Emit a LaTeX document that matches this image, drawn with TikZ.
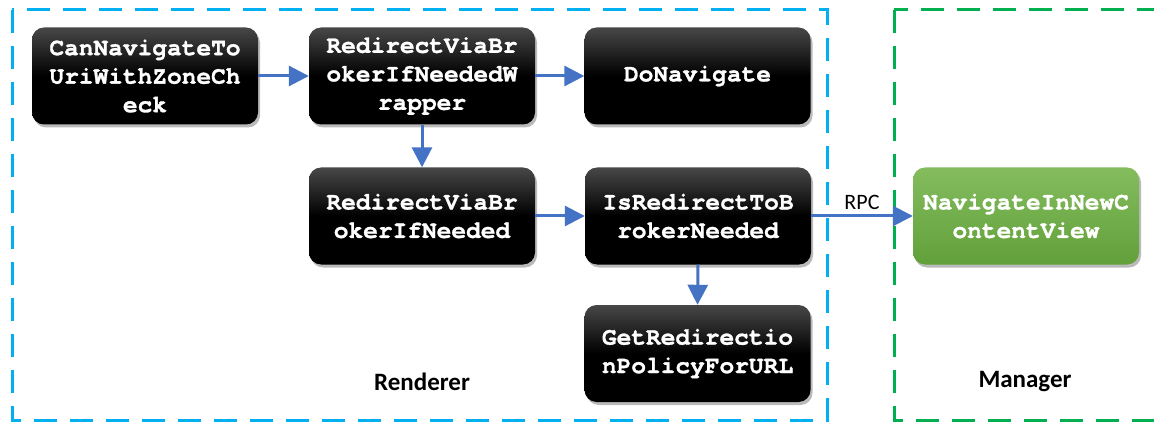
\documentclass[tikz,border=0pt]{standalone}
\usepackage{fontspec}
\setmainfont{Carlito}
\newfontfamily\codefont{texgyrecursor}[Extension=.otf, UprightFont=*-regular, BoldFont=*-bold, BoldFeatures={FakeBold=1.2}]
\usetikzlibrary{arrows.meta,shadows}
\definecolor{arrowblue}{HTML}{4472C4}
\definecolor{rendblue}{HTML}{00B0F0}
\definecolor{mangreen}{HTML}{00B050}
\definecolor{gtop}{HTML}{84BC5E}
\definecolor{gbot}{HTML}{62A03A}
\tikzset{
  fn/.style={rectangle, rounded corners=12pt, minimum width=226pt, minimum height=97pt,
    inner sep=0pt, align=center, text=white,
    font=\codefont\bfseries\fontsize{24.5}{28.5}\selectfont,
    drop shadow={shadow xshift=2pt, shadow yshift=-3pt, opacity=0.45, fill=black!60}},
  blackfn/.style={fn, top color=black!72, bottom color=black, middle color=black},
  greenfn/.style={fn, top color=gtop, bottom color=gbot},
  conn/.style={draw=arrowblue, line width=3pt, -{Triangle[length=20pt,width=20pt]}},
  region/.style={line width=3pt, dash pattern=on 23pt off 13pt},
  lbl/.style={font=\fontsize{25}{30}\selectfont\bfseries},
}
\begin{document}
\begin{tikzpicture}[x=1pt,y=-1pt]
\useasboundingbox (0,0) rectangle (1154,422);
\clip (0,0) rectangle (1154,422);
\fill[white] (0,0) rectangle (1154,422);
\draw[region, draw=rendblue] (12,10) rectangle (827,420);
\draw[region, draw=mangreen] (894,10) rectangle (1175,420);

\node[blackfn] (canNav) at (145,76) {CanNavigateTo\\UriWithZoneCh\\eck};
\node[blackfn] (wrapper) at (422,76) {RedirectViaBr\\okerIfNeededW\\rapper};
\node[blackfn] (doNav) at (697.5,76) {DoNavigate};
\node[blackfn] (redirect) at (422,216) {RedirectViaBr\\okerIfNeeded};
\node[blackfn] (isRedir) at (698,216) {IsRedirectToB\\rokerNeeded};
\node[blackfn] (policy) at (697.5,353.5) {GetRedirectio\\nPolicyForURL};
\node[greenfn] (navNew) at (1026,216) {NavigateInNewC\\ontentView};

\draw[conn] (canNav) -- (wrapper);
\draw[conn] (wrapper) -- (doNav);
\draw[conn] (wrapper) -- (redirect);
\draw[conn] (redirect) -- (isRedir);
\draw[conn] (isRedir.south) -- (policy.north);
\draw[conn] (isRedir) -- node[above=2pt, font=\fontsize{22}{26}\selectfont, text=black] (rpc) {RPC} (navNew);

\node[lbl] (rendLbl) at (422,382) {Renderer};
\node[lbl] (manLbl) at (1025,382) {Manager};
\end{tikzpicture}
\end{document}
